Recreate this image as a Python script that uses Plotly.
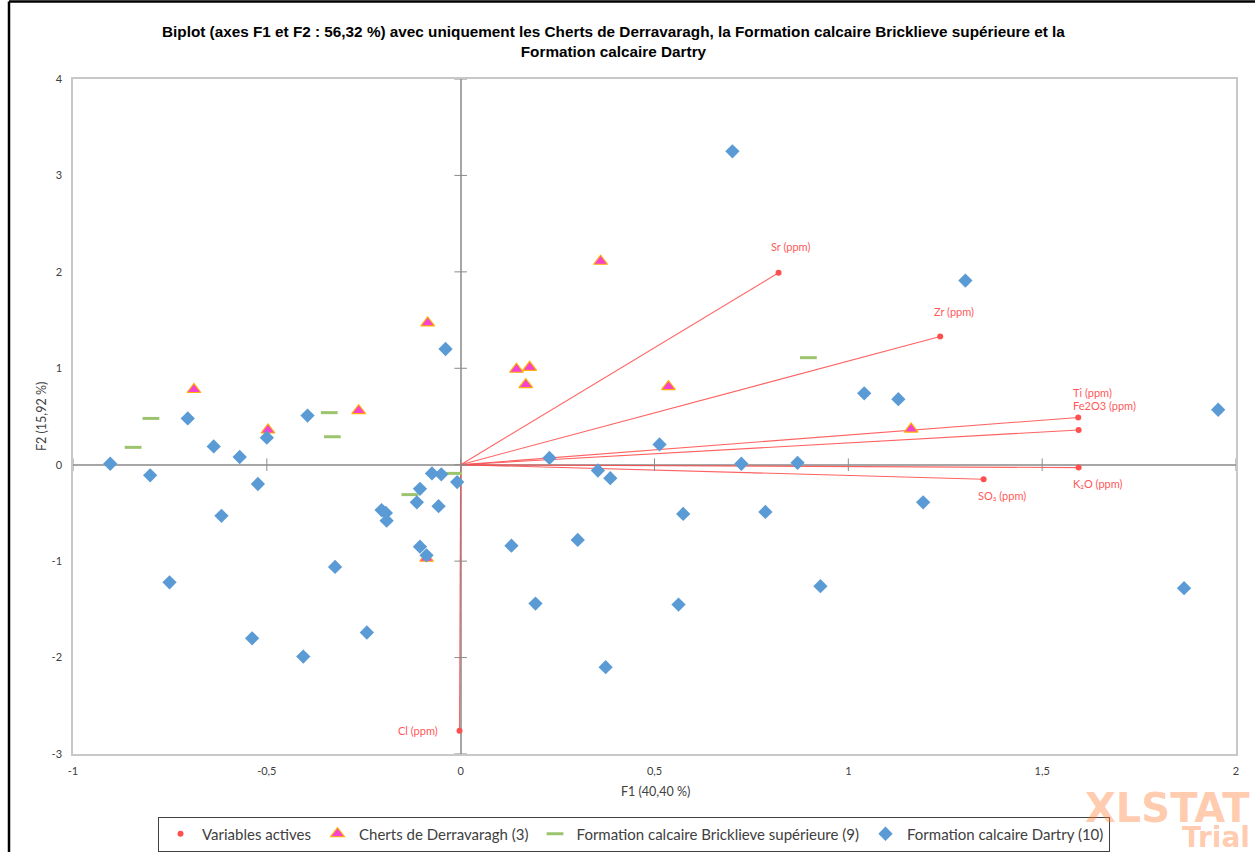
import plotly.graph_objects as go

# ---------------- data ----------------
var_names = ["Sr (ppm)", "Zr (ppm)", "Ti (ppm)", "Fe2O3 (ppm)", "K₂O (ppm)", "SO₃ (ppm)", "Cl (ppm)"]
var_f1 = [0.820, 1.237, 1.593, 1.594, 1.594, 1.349, -0.003]
var_f2 = [1.99, 1.33, 0.49, 0.36, -0.03, -0.15, -2.76]

cherts_f1 = [0.361, -0.085, -0.688, -0.497, -0.263, 0.144, 0.178, 0.168, 0.536, 1.162, -0.088]
cherts_f2 = [2.11, 1.47, 0.78, 0.36, 0.56, 0.99, 1.01, 0.83, 0.81, 0.37, -0.97]

brick_f1 = [-0.799, -0.845, -0.339, -0.331, -0.018, -0.131, 0.897]
brick_f2 = [0.48, 0.18, 0.54, 0.29, -0.09, -0.31, 1.11]

dartry_f1 = [-0.904, -0.801, -0.704, -0.637, -0.570, -0.500, -0.523, -0.617, -0.395, -0.039,
             -0.074, -0.050, -0.009, -0.105, -0.113, -0.057, -0.204, -0.193, -0.191, -0.105,
             -0.088, -0.324, -0.751, -0.538, -0.406, -0.242,
             0.701, 1.302, 1.041, 1.129, 1.954, 0.513, 0.229, 0.354, 0.386, 0.574,
             0.724, 0.869, 0.786, 1.193, 0.302, 0.131, 0.193, 0.562, 0.928, 0.374, 1.866]
dartry_f2 = [0.01, -0.11, 0.48, 0.19, 0.08, 0.28, -0.20, -0.53, 0.51, 1.20,
             -0.09, -0.10, -0.18, -0.25, -0.39, -0.43, -0.47, -0.50, -0.58, -0.85,
             -0.94, -1.06, -1.22, -1.80, -1.99, -1.74,
             3.25, 1.91, 0.74, 0.68, 0.57, 0.21, 0.07, -0.06, -0.14, -0.51,
             0.01, 0.02, -0.49, -0.39, -0.78, -0.84, -1.44, -1.45, -1.26, -2.10, -1.28]

series_names = ["Variables actives", "Cherts de Derravaragh (3)",
                "Formation calcaire Bricklieve supérieure (9)", "Formation calcaire Dartry (10)"]

x_ticks = [-1, -0.5, 0, 0.5, 1, 1.5, 2]
x_tick_labels = ["-1", "-0,5", "0", "0,5", "1", "1,5", "2"]
y_ticks = [-3, -2, -1, 0, 1, 2, 3, 4]
y_tick_labels = ["-3", "-2", "-1", "0", "1", "2", "3", "4"]

title_text = ("Biplot (axes F1 et F2 : 56,32 %) avec uniquement les Cherts de Derravaragh, "
              "la Formation calcaire Bricklieve supérieure et la<br>Formation calcaire Dartry")
x_title = "F1 (40,40 %)"
y_title = "F2 (15,92 %)"

# label offsets (pixels) for variable names: (xshift, yshift, xanchor)
label_style = {
    "Sr (ppm)": (12, 26, "center"),
    "Zr (ppm)": (14, 25, "center"),
    "Ti (ppm)": (14, 25, "center"),
    "Fe2O3 (ppm)": (26, 25, "center"),
    "K₂O (ppm)": (19, -16, "center"),
    "SO₃ (ppm)": (18, -16, "center"),
    "Cl (ppm)": (-20, 0, "right"),
}

# ---------------- style ----------------
FONT = "Lato, 'Open Sans', sans-serif"
RED = "#FF5050"
W, H = 1255, 852
L, R, T, B = 73, 19, 79, 98
PW, PH = W - L - R, H - T - B


def px_to_paper(px, py):
    return (px - L) / PW, (H - B - py) / PH


fig = go.Figure()

# variable vectors
for i, name in enumerate(var_names):
    fig.add_trace(go.Scatter(
        x=[0, var_f1[i]], y=[0, var_f2[i]], mode="lines",
        line=dict(color="rgba(255,70,70,0.85)", width=1.1),
        showlegend=False, hoverinfo="skip"))
fig.add_trace(go.Scatter(
    x=var_f1, y=var_f2, mode="markers", name=series_names[0],
    marker=dict(color=RED, size=6), text=var_names))

fig.add_trace(go.Scatter(
    x=cherts_f1, y=cherts_f2, mode="markers", name=series_names[1],
    marker=dict(symbol="triangle-up", size=12, color="#F542D0",
                line=dict(color="#FFB000", width=1.2))))

fig.add_trace(go.Scatter(
    x=brick_f1, y=brick_f2, mode="markers", name=series_names[2],
    marker=dict(symbol="line-ew", size=12,
                line=dict(color="#9CC46E", width=3), color="#9CC46E")))

fig.add_trace(go.Scatter(
    x=dartry_f1, y=dartry_f2, mode="markers", name=series_names[3],
    marker=dict(symbol="diamond", size=11, color="#5B9BD5")))

# small tick marks on the zero axes
fig.add_trace(go.Scatter(
    x=[0] * len(y_ticks), y=y_ticks, mode="markers", showlegend=False, hoverinfo="skip",
    marker=dict(symbol="line-ew", size=9, line=dict(color="#8C8C8C", width=1))))
fig.add_trace(go.Scatter(
    x=x_ticks, y=[0] * len(x_ticks), mode="markers", showlegend=False, hoverinfo="skip",
    marker=dict(symbol="line-ns", size=9, line=dict(color="#8C8C8C", width=1))))

# variable labels
for i, name in enumerate(var_names):
    xs, ys, xa = label_style[name]
    fig.add_annotation(x=var_f1[i], y=var_f2[i], text=name, showarrow=False,
                       xshift=xs, yshift=ys, xanchor=xa, yanchor="middle",
                       font=dict(family=FONT, size=11, color="#FF5A5A"))

annotations = []
# title
tx, ty = px_to_paper(613, 41)
annotations.append(dict(x=tx, y=ty, xref="paper", yref="paper", text="<b>" + title_text + "</b>",
                        showarrow=False, xanchor="center", yanchor="middle",
                        font=dict(family="'Liberation Sans', Arial, sans-serif", size=15.3, color="#000000")))
# axis titles
ax, ay = px_to_paper(655, 791)
annotations.append(dict(x=ax, y=ay, xref="paper", yref="paper", text=x_title, showarrow=False,
                        xanchor="center", yanchor="middle",
                        font=dict(family=FONT, size=12.5, color="#404040")))
bx, by = px_to_paper(41, 417)
annotations.append(dict(x=bx, y=by, xref="paper", yref="paper", text=y_title, showarrow=False,
                        xanchor="center", yanchor="middle", textangle=-90,
                        font=dict(family=FONT, size=12.5, color="#404040")))
# watermark
wx, wy = px_to_paper(1252, 808)
annotations.append(dict(x=wx, y=wy, xref="paper", yref="paper", text="<b>XLSTAT</b>", showarrow=False,
                        xanchor="right", yanchor="middle",
                        font=dict(family="'DejaVu Sans', sans-serif", size=40,
                                  color="rgba(255,130,60,0.42)")))
vx, vy = px_to_paper(1252, 837)
annotations.append(dict(x=vx, y=vy, xref="paper", yref="paper", text="<b>Trial</b>", showarrow=False,
                        xanchor="right", yanchor="middle",
                        font=dict(family="'DejaVu Sans', sans-serif", size=28,
                                  color="rgba(255,130,60,0.42)")))
for a in annotations:
    fig.add_annotation(**a)

# outer frame (left and top edges)
x9, _ = px_to_paper(9, 0)
_, y2 = px_to_paper(0, 1.5)
_, ybot = px_to_paper(0, 860)
fig.add_shape(type="line", xref="paper", yref="paper", x0=x9, x1=x9, y0=ybot, y1=y2,
              line=dict(color="#000000", width=2.5))
x_end, _ = px_to_paper(1260, 0)
fig.add_shape(type="line", xref="paper", yref="paper", x0=x9, x1=x_end, y0=y2, y1=y2,
              line=dict(color="#000000", width=2.5))

axis_common = dict(showgrid=False, zeroline=True, zerolinecolor="#A6A6A6", zerolinewidth=1.5,
                   showline=True, linecolor="#C8C8C8", linewidth=1.5, mirror=True,
                   ticks="", tickfont=dict(family=FONT, size=11, color="#404040"))
fig.update_xaxes(range=[-1, 2], tickvals=x_ticks, ticktext=x_tick_labels,
                 ticklabelstandoff=6, **axis_common)
fig.update_yaxes(range=[-3, 4], tickvals=y_ticks, ticktext=y_tick_labels,
                 ticklabelstandoff=7, **axis_common)

lx, ly = px_to_paper(634, 834)
fig.update_layout(
    width=W, height=H, margin=dict(l=L, r=R, t=T, b=B, autoexpand=False),
    paper_bgcolor="white", plot_bgcolor="white",
    font=dict(family=FONT, color="#404040"),
    separators=", ",
    legend=dict(orientation="h", x=lx, y=ly, xanchor="center", yanchor="middle",
                bordercolor="#404040", borderwidth=1, bgcolor="white",
                font=dict(family=FONT, size=15, color="#404040"),
                itemwidth=33, tracegroupgap=0),
)

fig.write_html("out.html", config={"displayModeBar": False},
               post_script="document.body.style.margin='0';document.body.style.overflow='hidden';")
